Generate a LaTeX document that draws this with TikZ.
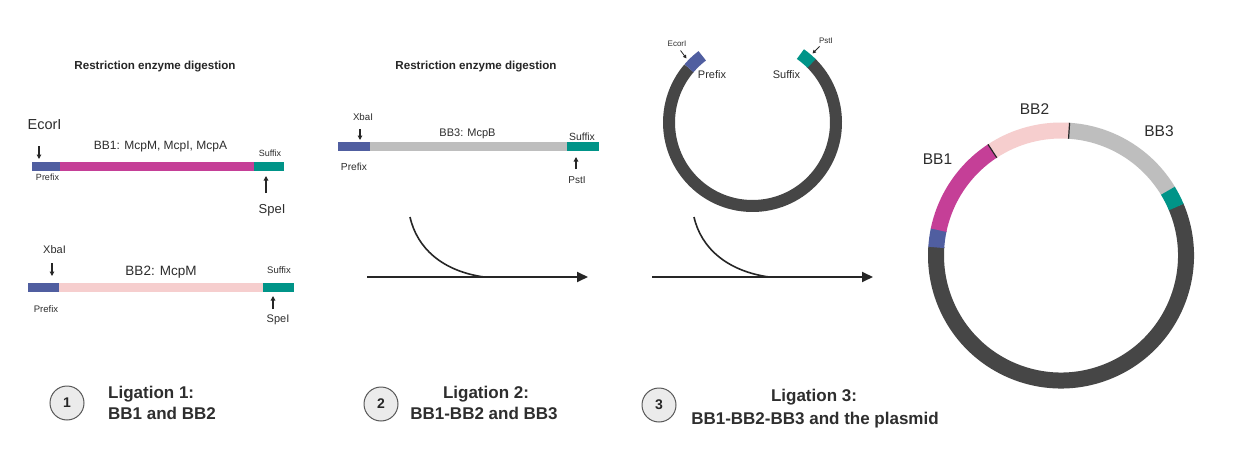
\documentclass[tikz,border=0pt]{standalone}
\usepackage{fontspec}
\setmainfont{Liberation Sans}
\usetikzlibrary{arrows.meta}
\definecolor{pre}{RGB}{80,94,160}
\definecolor{mag}{RGB}{197,63,151}
\definecolor{tea}{RGB}{0,148,136}
\definecolor{pnk}{RGB}{246,206,206}
\definecolor{gry}{RGB}{190,190,190}
\definecolor{drk}{RGB}{70,70,70}
\definecolor{txt}{RGB}{45,45,45}
\newcommand\fsz[1]{\fontsize{#1}{#1}\selectfont}
\begin{document}
\begin{tikzpicture}[x=1pt,y=-1pt,
  lbl/.style={inner sep=0pt,anchor=base,text=txt},
  ttl/.style={inner sep=0pt,anchor=base,text=black!85,font=\fsz{11.6}\bfseries},
  sarrow/.style={-{Triangle[length=4.5pt,width=4.5pt]},line width=1.1pt,draw=black!85},
  bigarrow/.style={-{Triangle[length=11pt,width=10pt]},line width=1.8pt,draw=black!85},
  curve/.style={line width=1.6pt,draw=black!85},
  numc/.style={circle,draw=black!65,fill=black!8,line width=1pt,minimum size=34pt,inner sep=0pt,text=black!85,font=\fsz{14}\bfseries},
  lig/.style={inner sep=0pt,anchor=base,text=black!82,font=\fsz{17}\bfseries},
  ring/.style={line width=16pt},
  sring/.style={line width=12pt}]
\useasboundingbox (0,0) rectangle (1240,460);
\fill[white] (0,0) rectangle (1240,460);

% ---------- Panel 1 ----------
\node[ttl] (t1) at (155,70) {Restriction enzyme digestion};
% BB1 bar
\fill[pre] (32,162) rectangle (60,171);
\fill[mag] (60,162) rectangle (254,171);
\fill[tea] (254,162) rectangle (284,171);
\node[lbl,font=\fsz{14.5}] (ecori1) at (44.5,129) {EcorI};
\node[lbl,font=\fsz{12}] (bb1lab) at (160.5,149) {BB1: McpM, McpI, McpA};
\node[lbl,font=\fsz{9}] (suf1) at (270,156) {Suffix};
\node[lbl,font=\fsz{9}] (pre1) at (47.5,180) {Prefix};
\node[lbl,font=\fsz{13}] (spe1) at (272,213) {SpeI};
\coordinate (a1s) at (39,146); \coordinate (a1e) at (39,159);
\draw[sarrow] (a1s) -- (a1e);
\coordinate (a2s) at (266,193); \coordinate (a2e) at (266,176);
\draw[sarrow] (a2s) -- (a2e);
% BB2 bar
\fill[pre] (28,283) rectangle (59,292);
\fill[pnk] (59,283) rectangle (263,292);
\fill[tea] (263,283) rectangle (294,292);
\node[lbl,font=\fsz{11}] (xba1) at (54.5,253) {XbaI};
\node[lbl,font=\fsz{13.5}] (bb2lab) at (161,275) {BB2: McpM};
\node[lbl,font=\fsz{9.5}] (suf2) at (279,273) {Suffix};
\node[lbl,font=\fsz{9.5}] (pre2) at (46,312) {Prefix};
\node[lbl,font=\fsz{11}] (spe2) at (278,322) {SpeI};
\coordinate (a3s) at (52,263); \coordinate (a3e) at (52,276);
\draw[sarrow] (a3s) -- (a3e);
\coordinate (a4s) at (273,309); \coordinate (a4e) at (273,296);
\draw[sarrow] (a4s) -- (a4e);

% ---------- Panel 2 ----------
\node[ttl] (t2) at (476,70) {Restriction enzyme digestion};
\fill[pre] (338,142) rectangle (370,151);
\fill[gry] (370,142) rectangle (567,151);
\fill[tea] (567,142) rectangle (599,151);
\node[lbl,font=\fsz{9.7}] (xba2) at (363,120) {XbaI};
\node[lbl,font=\fsz{11}] (bb3lab) at (467.5,136) {BB3: McpB};
\node[lbl,font=\fsz{10.4}] (suf3) at (582,140.7) {Suffix};
\node[lbl,font=\fsz{10.2}] (pre3) at (354,170.7) {Prefix};
\node[lbl,font=\fsz{10}] (pst1) at (577,183) {PstI};
\coordinate (a5s) at (360,129); \coordinate (a5e) at (360,140);
\draw[sarrow] (a5s) -- (a5e);
\coordinate (a6s) at (576,169); \coordinate (a6e) at (576,157);
\draw[sarrow] (a6s) -- (a6e);

% main arrow 1
\coordinate (m1s) at (367,277); \coordinate (m1e) at (588,277);
\draw[bigarrow] (m1s) -- (m1e);
\coordinate (c1s) at (410,217); \coordinate (c1e) at (484,277);
\draw[curve] (c1s) .. controls (417,248) and (442,271) .. (c1e);

% ---------- Panel 3: small plasmid ----------
\begin{scope}[shift={(752.5,122.5)},yscale=-1]
  \draw[sring,drk] (45.5:83.5) arc[start angle=45.5,end angle=-220.5,radius=83.5];
  \draw[sring,tea] (45:83.5) arc[start angle=45,end angle=55,radius=83.5];
  \draw[sring,pre] (139.5:83.5) arc[start angle=139.5,end angle=127,radius=83.5];
\end{scope}
\node[lbl,font=\fsz{8}] (ecori2) at (677,47) {EcorI};
\node[lbl,font=\fsz{11}] (pre4) at (712,78.7) {Prefix};
\node[lbl,font=\fsz{11}] (suf4) at (786.5,78.7) {Suffix};
\node[lbl,font=\fsz{8}] (pst2) at (826,44) {PstI};
\coordinate (a7s) at (680.5,50.5); \coordinate (a7e) at (686.5,58.5);
\draw[sarrow,line width=0.8pt,-{Triangle[length=3.5pt,width=3.5pt]}] (a7s) -- (a7e);
\coordinate (a8s) at (819.5,46.5); \coordinate (a8e) at (812.5,53.5);
\draw[sarrow,line width=0.8pt,-{Triangle[length=3.5pt,width=3.5pt]}] (a8s) -- (a8e);

% main arrow 2
\coordinate (m2s) at (652,277); \coordinate (m2e) at (873,277);
\draw[bigarrow] (m2s) -- (m2e);
\coordinate (c2s) at (694,217); \coordinate (c2e) at (769,277);
\draw[curve] (c2s) .. controls (701,248) and (727,271) .. (c2e);

% ---------- Final plasmid ----------
\begin{scope}[shift={(1061,255.5)},yscale=-1]
  \draw[ring,drk] (23:125) arc[start angle=23,end angle=-184,radius=125];
  \draw[ring,pre] (176.3:125) arc[start angle=176.3,end angle=168,radius=125];
  \draw[ring,mag] (168.3:125) arc[start angle=168.3,end angle=123,radius=125];
  \draw[ring,pnk] (123.3:125) arc[start angle=123.3,end angle=86.2,radius=125];
  \draw[ring,gry] (86.4:125) arc[start angle=86.4,end angle=31,radius=125];
  \draw[ring,tea] (31.2:125) arc[start angle=31.2,end angle=22.8,radius=125];
  \draw[line width=1.2pt,black!85] (123.3:117) -- (123.3:133);
  \draw[line width=1.2pt,black!85] (86.3:117) -- (86.3:133);
\end{scope}
\node[lbl,font=\fsz{15.5}] (bb1) at (937.5,164) {BB1};
\node[lbl,font=\fsz{15.5}] (bb2) at (1034.5,114) {BB2};
\node[lbl,font=\fsz{15.5}] (bb3) at (1159,136.7) {BB3};

% ---------- Bottom labels ----------
\node[numc] (n1) at (67,403) {1};
\node[lig,anchor=base west] (l1a) at (108,398.5) {Ligation 1:};
\node[lig,anchor=base west] (l1b) at (108,419) {BB1 and BB2};
\node[numc] (n2) at (381,404) {2};
\node[lig] (l2a) at (486,398.5) {Ligation 2:};
\node[lig] (l2b) at (484,419) {BB1-BB2 and BB3};
\node[numc] (n3) at (659,405) {3};
\node[lig] (l3a) at (814,401.5) {Ligation 3:};
\node[lig] (l3b) at (815,424.5) {BB1-BB2-BB3 and the plasmid};
\end{tikzpicture}
\end{document}
